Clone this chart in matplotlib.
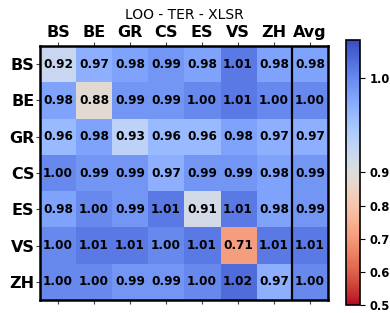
import matplotlib
matplotlib.use("Agg")
import matplotlib.pyplot as plt
import numpy as np
from matplotlib.colors import TwoSlopeNorm

col_labels = ["BS", "BE", "GR", "CS", "ES", "VS", "ZH", "Avg"]
row_labels = ["BS", "BE", "GR", "CS", "ES", "VS", "ZH"]

row_bs = [0.92, 0.97, 0.98, 0.99, 0.98, 1.01, 0.98, 0.98]
row_be = [0.98, 0.88, 0.99, 0.99, 1.00, 1.01, 1.00, 1.00]
row_gr = [0.96, 0.98, 0.93, 0.96, 0.96, 0.98, 0.97, 0.97]
row_cs = [1.00, 0.99, 0.99, 0.97, 0.99, 0.99, 0.98, 0.99]
row_es = [0.98, 1.00, 0.99, 1.01, 0.91, 1.01, 0.98, 0.99]
row_vs = [1.00, 1.01, 1.01, 1.00, 1.01, 0.71, 1.01, 1.01]
row_zh = [1.00, 1.00, 0.99, 0.99, 1.00, 1.02, 0.97, 1.00]

cbar_ticks = [0.5, 0.6, 0.7, 0.8, 0.9, 1.0]

data = np.array([row_bs, row_be, row_gr, row_cs, row_es, row_vs, row_zh])

fig = plt.figure(figsize=(3.9, 3.13), dpi=100)
ax = fig.add_axes([0.1026, 0.0415, 0.7385, 0.8115])
cax = fig.add_axes([0.887, 0.026, 0.036, 0.846])

norm = TwoSlopeNorm(vmin=0.5, vcenter=0.9, vmax=1.04)
im = ax.imshow(data, cmap="coolwarm_r", norm=norm, aspect="auto")

for i in range(data.shape[0]):
    for j in range(data.shape[1]):
        ax.text(j, i, f"{data[i, j]:.2f}", ha="center", va="center",
                fontsize=8.7, fontweight="bold", color="black")

ax.axvline(6.5, color="black", linewidth=1.6)

ax.set_xticks(range(len(col_labels)))
ax.set_xticklabels(col_labels, fontsize=11.5, fontweight="bold")
ax.set_yticks(range(len(row_labels)))
ax.set_yticklabels(row_labels, fontsize=11.5, fontweight="bold")
ax.tick_params(axis="x", top=True, labeltop=True, bottom=True, labelbottom=False,
               length=3, width=0.8, color="#444444", pad=1)
ax.tick_params(axis="y", length=3, width=0.8, color="#444444", pad=1)
for spine in ax.spines.values():
    spine.set_linewidth(1.8)

ax.set_title("LOO - TER - XLSR", fontsize=10, pad=5)

cb = fig.colorbar(im, cax=cax, ticks=cbar_ticks)
cb.ax.set_yticklabels([f"{t:.1f}" for t in cbar_ticks], fontsize=8.3, fontweight="bold")
cb.ax.minorticks_off()
cb.outline.set_linewidth(1.2)

fig.savefig("out.png", dpi=100)
